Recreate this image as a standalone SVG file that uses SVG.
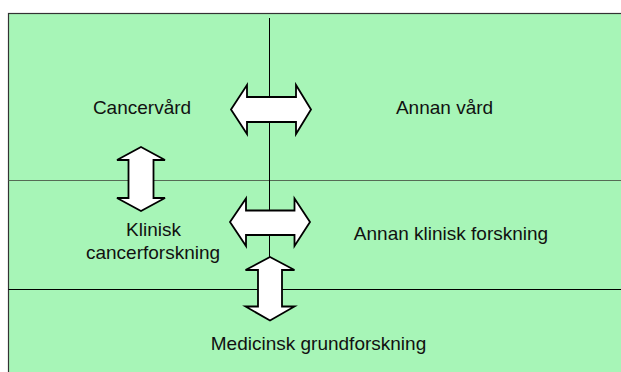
<svg xmlns="http://www.w3.org/2000/svg" width="621" height="372" viewBox="0 0 621 372">
<style>
.bg{fill:#a7f5b7;stroke:#333;stroke-width:1.2}
.ln{stroke:#000;stroke-width:1;fill:none}
.ar{fill:#fff;stroke:#000;stroke-width:1.8;stroke-linejoin:miter}
.t{font-family:"Liberation Sans",Arial,sans-serif;font-size:19px;fill:#111;text-anchor:middle}
</style>
<g id="background">
<rect class="bg" x="8.5" y="13.5" width="630" height="380"/>
<line class="ln" x1="8.5" y1="180.5" x2="621" y2="180.5" style="stroke:#556b55"/>
<line class="ln" x1="8.5" y1="289.5" x2="621" y2="289.5"/>
<line class="ln" x1="269.5" y1="18" x2="269.5" y2="257"/>
</g>
<g id="connectors">
<polygon class="ar" points="231,109.5 247,85 247,97 296,97 296,85 311,109.5 296,134 296,122 247,122 247,134"/>
<polygon class="ar" points="230,222 246,198.5 246,210.5 294.5,210.5 294.5,198.5 310,222 294.5,246 294.5,235 246,235 246,246"/>
<polygon class="ar" points="141,147 165,160 153.5,160 153.5,198 165,198 141,211 117,198 128.5,198 128.5,160 117,160"/>
<polygon class="ar" points="270,257 294.5,270 282,270 282,306.5 294.5,306.5 270,320.5 245.5,306.5 258,306.5 258,270 245.5,270"/>
</g>
<g id="cancervard"><text class="t" x="142" y="114">Cancervård</text></g>
<g id="annan-vard"><text class="t" x="444.5" y="114">Annan vård</text></g>
<g id="klinisk-cancerforskning"><text class="t" x="153.5" y="235.5">Klinisk</text><text class="t" x="153" y="259">cancerforskning</text></g>
<g id="annan-klinisk-forskning"><text class="t" x="451" y="240">Annan klinisk forskning</text></g>
<g id="medicinsk-grundforskning"><text class="t" x="318.5" y="350">Medicinsk grundforskning</text></g>
</svg>
